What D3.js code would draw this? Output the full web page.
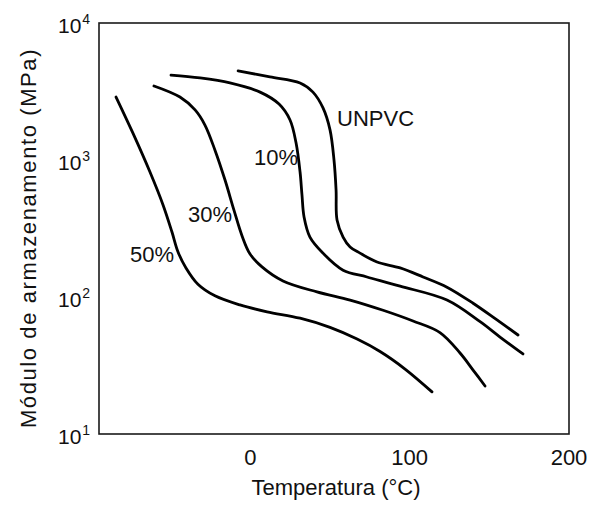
<!DOCTYPE html>
<html>
<head>
<meta charset="utf-8">
<script src="https://cdn.jsdelivr.net/npm/d3@7/dist/d3.min.js"></script>
<style>
  html, body { margin: 0; padding: 0; background: #fff; }
  svg { display: block; }
  text { font-family: "Liberation Sans", Arial, Helvetica, sans-serif; fill: #111; }
</style>
</head>
<body>
<div id="chart"></div>
<script>
// Storage modulus of PVC with varying plasticiser content vs temperature
const seriesNames = ["UNPVC", "10%", "30%", "50%"];

const tempUNPVC = [-7.7, 12.3, 31.2, 39.3, 45.6, 50.0, 52.5, 53.8, 54.4, 58.2, 62.6, 68.8, 79.5, 94.0, 108.4, 123.4, 139.8, 154.8, 168.0];
const modUNPVC  = [4470, 4040, 3650, 3130, 2400, 1660, 1000, 604, 365, 274, 232, 209, 180, 163, 140, 118, 90, 68, 52.8];

const temp10 = [-49.8, -31.6, -12.8, 6.1, 18.0, 24.9, 28.7, 31.2, 32.4, 33.7, 37.4, 45.6, 58.2, 73.2, 94.0, 123.4, 144.2, 156.7, 171.1];
const mod10  = [4170, 3970, 3650, 3130, 2560, 1960, 1330, 817, 556, 384, 274, 209, 157, 140, 120, 95, 66, 51, 38.4];

const temp30 = [-60.5, -44.2, -34.7, -28.5, -22.2, -15.9, -10.3, -5.2, -0.2, 7.3, 20.5, 41.8, 62.6, 83.3, 102.1, 119.0, 131.6, 139.8, 147.3];
const mod30  = [3470, 2880, 2320, 1800, 1180, 714, 431, 279, 206, 166, 131, 109, 95, 80, 66.8, 55, 39, 29.3, 22.4];

const temp50 = [-84.3, -73.7, -63.0, -54.8, -49.2, -45.4, -40.4, -32.9, -22.2, -6.5, 10.5, 31.2, 50.0, 67.0, 81.4, 97.1, 114.0];
const mod50  = [2880, 1570, 817, 470, 298, 213, 163, 124, 102, 87.5, 78, 70, 60, 49.3, 40, 29.8, 20.3];

// Curve label anchors (start of text, baseline) in data units
const labelTemps = [54.4, 2.3, -39.1, -75.5];
const labelMods  = [1770, 920, 352, 180];

const xTicks = [0, 100, 200];
const yTicks = [10, 100, 1000, 10000];
const yTickExp = ["1", "2", "3", "4"];

const width = 592, height = 506;
const margin = { left: 99, right: 23, top: 23, bottom: 72 };

const svg = d3.select("#chart").append("svg")
  .attr("width", width).attr("height", height);

svg.append("rect").attr("width", width).attr("height", height).attr("fill", "#fff");

const x = d3.scaleLinear().domain([-95, 200]).range([margin.left, width - margin.right]);
const y = d3.scaleLog().domain([10, 10000]).range([height - margin.bottom, margin.top]);

// Plot frame
svg.append("rect")
  .attr("x", x.range()[0]).attr("y", y.range()[1])
  .attr("width", x.range()[1] - x.range()[0])
  .attr("height", y.range()[0] - y.range()[1])
  .attr("fill", "none").attr("stroke", "#1a1a1a").attr("stroke-width", 1.6);

// Curves
const data = [
  d3.zip(tempUNPVC, modUNPVC),
  d3.zip(temp10, mod10),
  d3.zip(temp30, mod30),
  d3.zip(temp50, mod50)
];

const line = d3.line()
  .x(d => x(d[0])).y(d => y(d[1]))
  .curve(d3.curveCatmullRom.alpha(0.5));

svg.append("g").selectAll("path")
  .data(data).join("path")
  .attr("d", line)
  .attr("fill", "none").attr("stroke", "#000")
  .attr("stroke-width", 2.8)
  .attr("stroke-linecap", "round").attr("stroke-linejoin", "round");

// Curve labels
svg.append("g").selectAll("text")
  .data(seriesNames).join("text")
  .attr("x", (d, i) => x(labelTemps[i]))
  .attr("y", (d, i) => y(labelMods[i]))
  .attr("font-size", 22)
  .text(d => d);

// X tick labels
svg.append("g").selectAll("text")
  .data(xTicks).join("text")
  .attr("x", d => x(d)).attr("y", 465)
  .attr("text-anchor", "middle").attr("font-size", 22)
  .text(d => d);

// Y tick labels as powers of ten: base "10" with a raised exponent
const yl = svg.append("g").selectAll("text")
  .data(yTicks).join("text")
  .attr("x", 58).attr("y", d => y(d) + 10)
  .attr("font-size", 21);
yl.append("tspan").text("10");
yl.append("tspan")
  .attr("dx", 1).attr("dy", -9).attr("font-size", 14)
  .text((d, i) => yTickExp[i]);

// Axis titles
svg.append("text")
  .attr("x", 336).attr("y", 495)
  .attr("text-anchor", "middle").attr("font-size", 22)
  .text("Temperatura (°C)");

svg.append("text")
  .attr("transform", "translate(36," + 238 + ") rotate(-90)")
  .attr("text-anchor", "middle").attr("font-size", 22)
  .attr("letter-spacing", 1.6)
  .text("Módulo de armazenamento (MPa)");
</script>
</body>
</html>
